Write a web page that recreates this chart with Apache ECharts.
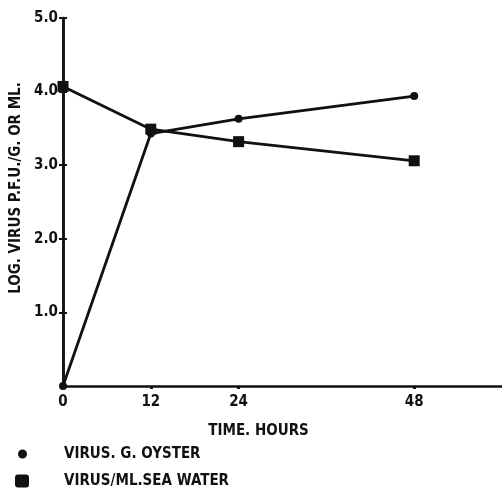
<!DOCTYPE html>
<html>
<head>
<meta charset="utf-8">
<script src="https://cdn.jsdelivr.net/npm/echarts@6/dist/echarts.min.js"></script>
<style>
  html, body { margin: 0; padding: 0; background: #fff; }
  #chart { width: 502px; height: 493px; }
</style>
</head>
<body>
<div id="chart"></div>
<script>
// Sampling times (hours) and log virus counts
const hours = [0, 12, 24, 48];
const oysterLog = [0, 3.43, 3.63, 3.94];
const seaWaterLog = [4.07, 3.49, 3.32, 3.06];
const xTickValues = [0, 12, 24, 48];
const yTickValues = [1, 2, 3, 4, 5];
const seriesNames = ['VIRUS. G. OYSTER', 'VIRUS/ML.SEA WATER'];

const FONT = '"DejaVu Sans Condensed", "Liberation Sans Narrow", sans-serif';
const INK = '#111';

const pairs = (xs, ys) => xs.map((x, i) => [x, ys[i]]);

const legendText = { fontFamily: FONT, fontWeight: 'bold', fontSize: 15, lineHeight: 16, color: INK };

const chart = echarts.init(document.getElementById('chart'));
chart.setOption({
  backgroundColor: '#fff',
  animation: false,
  grid: { left: 63, right: 0, top: 18, bottom: 107, containLabel: false },
  xAxis: {
    type: 'value', min: 0, max: 60,
    name: 'TIME. HOURS', nameLocation: 'middle', nameGap: 38,
    nameTextStyle: { fontFamily: FONT, fontWeight: 'bold', fontSize: 15, color: INK, padding: [0, 48, 0, 0] },
    axisLine: { lineStyle: { color: INK, width: 2.5 } },
    axisTick: { show: true, customValues: xTickValues.slice(1), length: 3, lineStyle: { color: INK, width: 3 } },
    axisLabel: { customValues: xTickValues, margin: 9, fontFamily: FONT, fontWeight: 'bold', fontSize: 15, color: INK },
    splitLine: { show: false }
  },
  yAxis: [{
    type: 'value', min: 0, max: 5, interval: 1,
    name: 'LOG. VIRUS P.F.U./G. OR ML.', nameLocation: 'middle', nameGap: 38,
    nameTextStyle: { fontFamily: FONT, fontWeight: 'bold', fontSize: 15, color: INK, padding: [0, 0, 0, 28] },
    axisLine: { show: true, lineStyle: { color: INK, width: 2.5 } },
    axisTick: { show: true, customValues: yTickValues, length: 4, lineStyle: { color: INK, width: 2 } },
    axisLabel: {
      customValues: yTickValues, margin: 5, fontFamily: FONT, fontWeight: 'bold', fontSize: 15, color: INK,
      formatter: v => v.toFixed(1)
    },
    splitLine: { show: false }
  }, {
    // inner half of the cross-shaped y ticks
    type: 'value', min: 0, max: 5, interval: 1, position: 'left',
    axisLine: { show: true, lineStyle: { color: INK, width: 2.5 } },
    axisTick: { show: true, inside: true, customValues: yTickValues, length: 4, lineStyle: { color: INK, width: 2 } },
    axisLabel: { show: false },
    splitLine: { show: false }
  }],
  legend: [{
    left: 18, top: 446, padding: 0,
    itemWidth: 9, itemHeight: 9,
    textStyle: Object.assign({ padding: [0, 0, 0, 32] }, legendText),
    data: [{ name: seriesNames[0], icon: 'circle' }]
  }, {
    left: 15, top: 473, padding: 0,
    itemWidth: 14, itemHeight: 13,
    textStyle: Object.assign({ padding: [0, 0, 0, 30] }, legendText),
    data: [{ name: seriesNames[1], icon: 'path://M3,0H11Q14,0 14,3V10Q14,13 11,13H3Q0,13 0,10V3Q0,0 3,0Z' }]
  }],
  series: [{
    name: seriesNames[0], type: 'line',
    data: pairs(hours, oysterLog),
    symbol: 'circle', symbolSize: 8,
    lineStyle: { color: INK, width: 2.8 },
    itemStyle: { color: INK }
  }, {
    name: seriesNames[1], type: 'line',
    data: pairs(hours, seaWaterLog),
    symbol: 'rect', symbolSize: 11,
    lineStyle: { color: INK, width: 2.8 },
    itemStyle: { color: INK }
  }]
});
</script>
</body>
</html>
